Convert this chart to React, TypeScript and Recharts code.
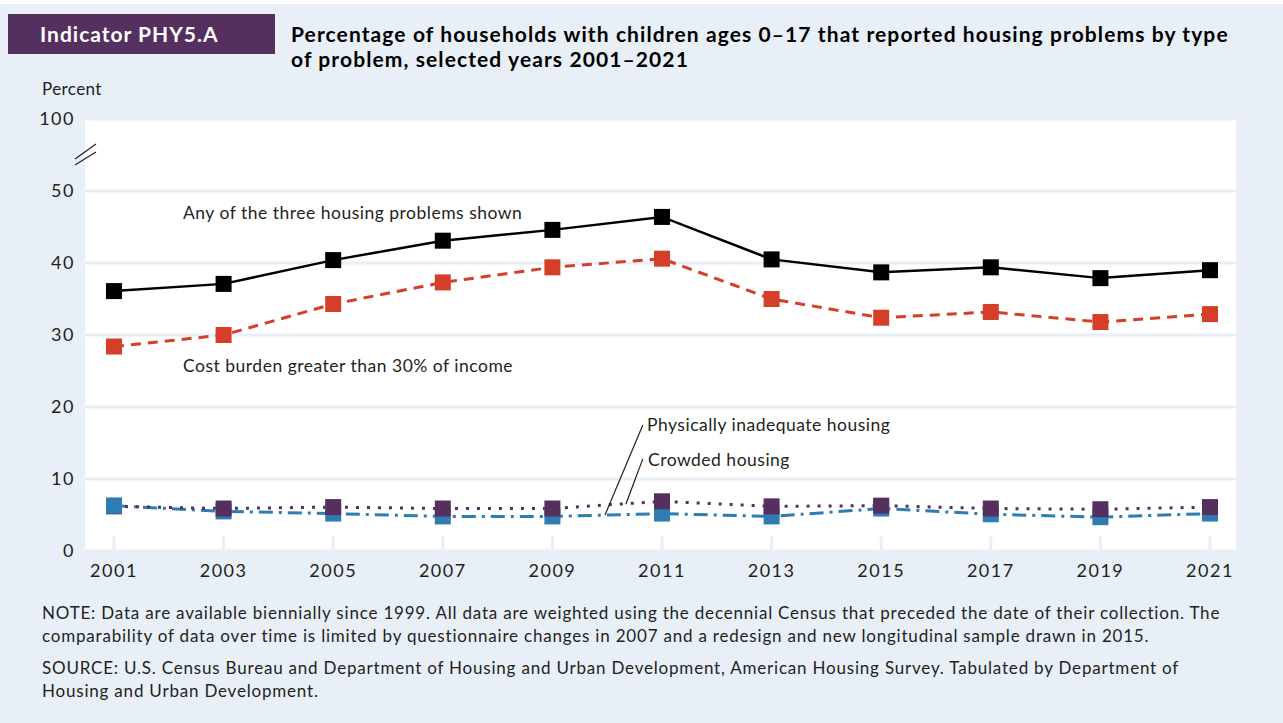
import React from "react";
import {
  LineChart,
  Line,
  XAxis,
  YAxis,
  CartesianGrid,
  ReferenceLine,
} from "recharts";

// values (percent)
const years = [2001, 2003, 2005, 2007, 2009, 2011, 2013, 2015, 2017, 2019, 2021];
const anyProblem = [36.1, 37.1, 40.4, 43.1, 44.6, 46.4, 40.5, 38.7, 39.4, 37.9, 39.0];
const costBurden = [28.4, 30.0, 34.3, 37.3, 39.4, 40.6, 35.0, 32.4, 33.2, 31.8, 32.9];
const inadequate = [6.2, 5.9, 6.1, 5.9, 5.9, 6.9, 6.2, 6.3, 5.9, 5.8, 6.1];
const crowded = [6.3, 5.5, 5.2, 4.8, 4.8, 5.2, 4.8, 5.9, 5.1, 4.7, 5.2];

// y axis is broken above 50; the top tick stands for 100
const yTicks = [0, 10, 20, 30, 40, 50, 60];
const yTickLabels: Record<number, string> = { 60: "100" };

const FONT = "Lato, 'Open Sans', sans-serif";
const INK = "#231f20";
const BG = "#e8eff7";
const PURPLE = "#55305f";
const BLUE = "#2f7cb5";
const RED = "#d53f29";

const data = years.map((year, i) => ({
  year,
  any: anyProblem[i],
  cost: costBurden[i],
  inadequate: inadequate[i],
  crowded: crowded[i],
}));

const squareDot =
  (color: string, size = 16, onlyFirst = false) =>
  (props: any) => {
    const { cx, cy, index } = props;
    if (cx == null || cy == null || (onlyFirst && index !== 0)) {
      return <g key={`e-${index}`} />;
    }
    return (
      <rect
        key={`d-${index}`}
        x={cx - size / 2}
        y={cy - size / 2}
        width={size}
        height={size}
        fill={color}
      />
    );
  };

function YearTick(props: any) {
  const { x, y, payload } = props;
  return (
    <g>
      <line x1={x} x2={x} y1={y - 15} y2={y} stroke={BG} strokeWidth={3} />
      <text
        x={x}
        y={y + 26}
        textAnchor="middle"
        fontFamily={FONT}
        fontSize={18}
        letterSpacing={1.5}
        fill={INK}
      >
        {payload.value}
      </text>
    </g>
  );
}

function PercentTick(props: any) {
  const { x, y, payload } = props;
  return (
    <text
      x={x}
      y={y}
      dy={6}
      textAnchor="end"
      fontFamily={FONT}
      fontSize={18}
      letterSpacing={1.5}
      fill={INK}
    >
      {yTickLabels[payload.value] ?? String(payload.value)}
    </text>
  );
}

const text = (extra: React.CSSProperties): React.CSSProperties => ({
  position: "absolute",
  fontFamily: FONT,
  color: INK,
  whiteSpace: "nowrap",
  lineHeight: 1,
  ...extra,
});

const seriesLabel = { fontSize: 17.5, letterSpacing: 0.5 };

export default function App() {
  return (
    <div
      style={{
        position: "absolute",
        left: 0,
        top: 0,
        width: 1283,
        height: 723,
        background: "#fff",
        overflow: "hidden",
      }}
    >
      <div
        style={{
          position: "absolute",
          left: 0,
          top: 4,
          width: 1283,
          height: 719,
          background: BG,
        }}
      />

      {/* header */}
      <div
        style={{
          position: "absolute",
          left: 8,
          top: 14,
          width: 267,
          height: 40,
          background: PURPLE,
        }}
      />
      <div
        style={text({
          left: 40,
          top: 23,
          fontSize: 21,
          letterSpacing: 1,
          fontWeight: 700,
          color: "#fff",
        })}
      >
        Indicator PHY5.A
      </div>
      <div
        style={text({
          left: 291,
          top: 21,
          fontSize: 21,
          letterSpacing: 1.1,
          fontWeight: 700,
          lineHeight: "25px",
          color: "#000",
        })}
      >
        Percentage of households with children ages 0–17 that reported housing problems by type
        <br />
        of problem, selected years 2001–2021
      </div>
      <div style={text({ left: 42, top: 80, fontSize: 17, letterSpacing: 0.4 })}>
        Percent
      </div>

      <div style={{ position: "absolute", left: 0, top: 0 }}>
        <LineChart
          width={1283}
          height={723}
          data={data}
          margin={{ top: 119, right: 47, left: 25, bottom: 132 }}
        >
          <CartesianGrid
            vertical={false}
            fill="#fff"
            stroke={BG}
            strokeWidth={3}
          />
          <XAxis
            dataKey="year"
            type="number"
            domain={["dataMin", "dataMax"]}
            ticks={years}
            padding={{ left: 29, right: 26 }}
            axisLine={false}
            tickLine={false}
            tickSize={0}
            tickMargin={0}
            height={40}
            tick={<YearTick />}
          />
          <YAxis
            domain={[0, 60]}
            ticks={yTicks}
            width={60}
            axisLine={false}
            tickLine={false}
            tickSize={0}
            tickMargin={10}
            tick={<PercentTick />}
          />

          <Line
            dataKey="any"
            stroke="#000"
            strokeWidth={2.5}
            dot={squareDot("#000")}
            activeDot={false}
            isAnimationActive={false}
          />
          <Line
            dataKey="cost"
            stroke={RED}
            strokeWidth={3}
            strokeDasharray="10 7"
            dot={squareDot(RED)}
            activeDot={false}
            isAnimationActive={false}
          />
          <Line
            dataKey="crowded"
            stroke={BLUE}
            strokeWidth={3}
            strokeDasharray="14 6 3 6"
            dot={squareDot(BLUE)}
            activeDot={false}
            isAnimationActive={false}
          />
          <Line
            dataKey="inadequate"
            stroke={PURPLE}
            strokeWidth={3}
            strokeDasharray="3 8"
            dot={squareDot(PURPLE)}
            activeDot={false}
            isAnimationActive={false}
          />
          {/* in 2001 the crowded marker sits above the inadequate one */}
          <Line
            dataKey="crowded"
            stroke="none"
            dot={squareDot(BLUE, 16, true)}
            activeDot={false}
            legendType="none"
            isAnimationActive={false}
          />

          {/* leader lines for the two low series */}
          <ReferenceLine
            segment={[
              { x: 2010.65, y: 17.5 },
              { x: 2009.96, y: 5.0 },
            ]}
            stroke={INK}
            strokeWidth={1.2}
            ifOverflow="visible"
          />
          <ReferenceLine
            segment={[
              { x: 2010.65, y: 12.8 },
              { x: 2010.34, y: 6.5 },
            ]}
            stroke={INK}
            strokeWidth={1.2}
            ifOverflow="visible"
          />
        </LineChart>
      </div>

      {/* axis break mark */}
      <svg
        width={40}
        height={40}
        style={{ position: "absolute", left: 70, top: 135 }}
      >
        <line x1={5} y1={24} x2={26} y2={9} stroke={INK} strokeWidth={1.2} />
        <line x1={5} y1={30} x2={26} y2={17} stroke={INK} strokeWidth={1.2} />
      </svg>

      {/* series labels */}
      <div style={text({ left: 183, top: 204, ...seriesLabel })}>
        Any of the three housing problems shown
      </div>
      <div style={text({ left: 183, top: 357, ...seriesLabel })}>
        Cost burden greater than 30% of income
      </div>
      <div style={text({ left: 647, top: 416, ...seriesLabel })}>
        Physically inadequate housing
      </div>
      <div style={text({ left: 648, top: 451, ...seriesLabel })}>
        Crowded housing
      </div>

      {/* notes */}
      <div
        style={text({
          left: 42,
          top: 601,
          fontSize: 17,
          letterSpacing: 0.8,
          lineHeight: "23px",
        })}
      >
        NOTE: Data are available biennially since 1999. All data are weighted using the decennial Census that preceded the date of their collection. The
        <br />
        comparability of data over time is limited by questionnaire changes in 2007 and a redesign and new longitudinal sample drawn in 2015.
      </div>
      <div
        style={text({
          left: 42,
          top: 656,
          fontSize: 17,
          letterSpacing: 0.8,
          lineHeight: "23px",
        })}
      >
        SOURCE: U.S. Census Bureau and Department of Housing and Urban Development, American Housing Survey. Tabulated by Department of
        <br />
        Housing and Urban Development.
      </div>
    </div>
  );
}
